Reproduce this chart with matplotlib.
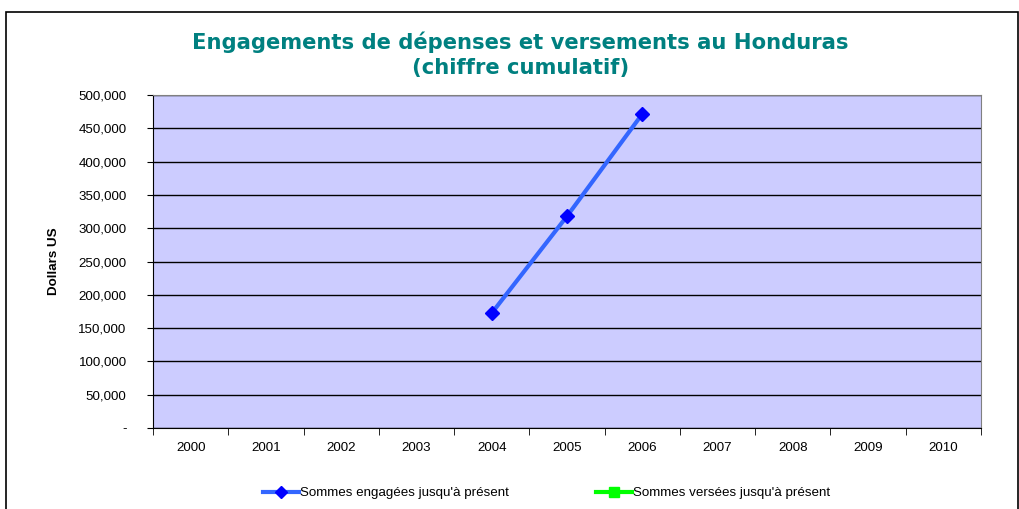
import matplotlib.pyplot as plt
import numpy as np
from matplotlib.lines import Line2D
from matplotlib.patches import Rectangle

years = ["2000", "2001", "2002", "2003", "2004", "2005", "2006", "2007", "2008", "2009", "2010"]
engaged = [np.nan, np.nan, np.nan, np.nan, 172500, 318000, 471500, np.nan, np.nan, np.nan, np.nan]
disbursed = [np.nan] * 11
y_ticks = [0, 50000, 100000, 150000, 200000, 250000, 300000, 350000, 400000, 450000, 500000]

fig = plt.figure(figsize=(10.2, 5.09), dpi=100)
fig.patches.append(Rectangle((6 / 1020, -0.01), 1012 / 1020, 1 - 12 / 509 + 0.01,
                             transform=fig.transFigure, fill=False, edgecolor="black",
                             linewidth=1.2))
ax = fig.add_axes([153 / 1020, 1 - 428 / 509, 828 / 1020, 333 / 509])
ax.set_facecolor("#CCCCFF")

x = np.arange(len(years))
ax.plot(x, engaged, color="#3366FF", linewidth=3, marker="D", markersize=7,
        markerfacecolor="#0000FF", markeredgecolor="#0000FF", zorder=3)
ax.plot(x, disbursed, color="#00FF00", linewidth=3, marker="s", markersize=7)

ax.set_xlim(-0.5, len(years) - 0.5)
ax.set_ylim(0, 500000)
ax.set_yticks(y_ticks)
ax.set_yticklabels(["-"] + [f"{v:,}" for v in y_ticks[1:]])
ax.set_xticks(x)
ax.set_xticklabels(years)
ax.set_xticks(np.arange(-0.5, len(years)), minor=True)
ax.tick_params(axis="x", which="major", length=0, pad=10)
ax.tick_params(axis="x", which="minor", length=5, direction="out", color="black")
ax.tick_params(axis="y", length=4, color="black", pad=15)
for lab in ax.get_xticklabels() + ax.get_yticklabels():
    lab.set_family("Liberation Sans")
    lab.set_fontsize(9.6)
ax.grid(axis="y", color="black", linewidth=1)
ax.set_axisbelow(True)
for side in ["top", "right"]:
    ax.spines[side].set_color("#808080")
ax.spines["left"].set_color("black")
ax.spines["bottom"].set_color("black")

ax.set_ylabel("Dollars US", fontfamily="Liberation Sans", fontweight="bold", fontsize=9.6, labelpad=13)

title_kw = dict(ha="center", va="center", color="#008080", fontweight="bold",
                fontsize=15.2, fontfamily="DejaVu Sans")
fig.text(0.51, 1 - 42 / 509, "Engagements de dépenses et versements au Honduras", **title_kw)
fig.text(0.51, 1 - 68 / 509, "(chiffre cumulatif)", **title_kw)

handles = [
    Line2D([], [], color="#3366FF", linewidth=3, marker="D", markersize=6,
           markerfacecolor="#0000FF", markeredgecolor="#0000FF"),
    Line2D([], [], color="#00FF00", linewidth=3, marker="s", markersize=7,
           markerfacecolor="#00FF00", markeredgecolor="#00FF00"),
]
fig.legend(handles, ["Sommes engagées jusqu'à présent", "Sommes versées jusqu'à présent"],
           loc="center", bbox_to_anchor=(0.536, 1 - 493 / 509), ncol=2, frameon=False,
           prop={"family": "Liberation Sans", "size": 9.6}, handlelength=2.7,
           handletextpad=0.1, columnspacing=6.5)

fig.savefig("out.png", dpi=100)
